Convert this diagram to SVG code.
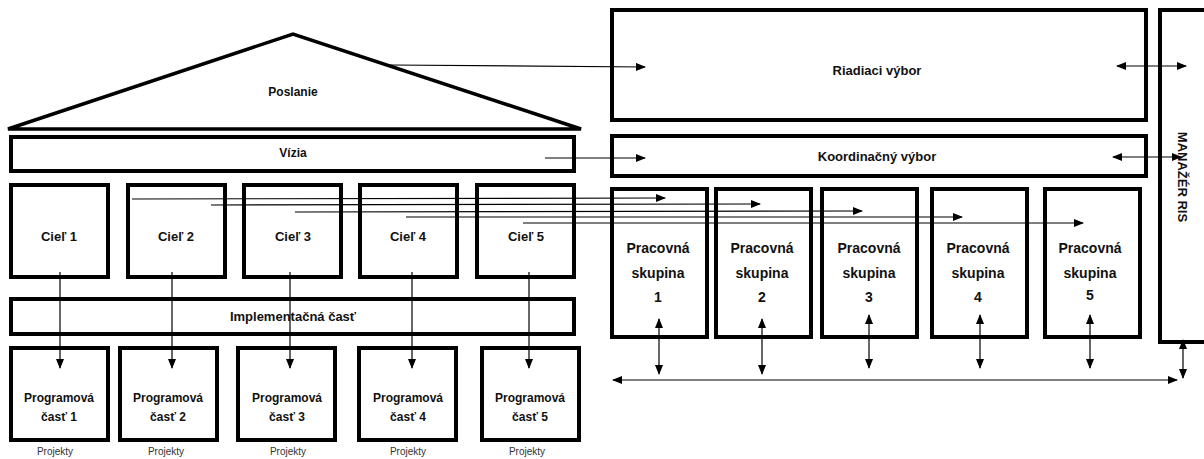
<svg xmlns="http://www.w3.org/2000/svg" width="1204" height="459" viewBox="0 0 1204 459">
<style>
.box{fill:#fff;stroke:#000;stroke-width:4}
.t{font-family:"Liberation Sans",Arial,sans-serif;font-weight:bold;fill:#111;text-anchor:middle}
.s12{font-size:12px}.s13{font-size:13px}.s14{font-size:14px}
.p{font-family:"Liberation Sans",Arial,sans-serif;font-size:10px;fill:#333;text-anchor:middle}
.c{stroke:#000;stroke-width:1.2;fill:none;marker-end:url(#ah)}
.d{stroke:#000;stroke-width:1.2;fill:none;marker-end:url(#ah);marker-start:url(#ah)}
</style>
<defs>
<marker id="ah" markerUnits="userSpaceOnUse" markerWidth="10" markerHeight="8" refX="9" refY="4" orient="auto-start-reverse">
<path d="M0,0 L10,4 L0,8 Z" fill="#000"/>
</marker>
</defs>
<g id="poslanie">
<path d="M8,129 L293,34 L581,129 Z" fill="#fff" stroke="#000" stroke-width="3.5" stroke-linejoin="miter"/>
<text class="t s12" x="293" y="96">Poslanie</text>
</g>
<g id="vizia"><rect class="box" x="11" y="137" width="563" height="34"/><text class="t s12" x="293" y="157">Vízia</text></g>
<g id="ciel1"><rect class="box" x="11" y="185" width="97" height="92"/><text class="t s13" x="59" y="241">Cieľ 1</text></g>
<g id="ciel2"><rect class="box" x="128" y="185" width="97" height="92"/><text class="t s13" x="176" y="241">Cieľ 2</text></g>
<g id="ciel3"><rect class="box" x="244" y="185" width="97" height="92"/><text class="t s13" x="293" y="241">Cieľ 3</text></g>
<g id="ciel4"><rect class="box" x="360" y="185" width="97" height="92"/><text class="t s13" x="408" y="241">Cieľ 4</text></g>
<g id="ciel5"><rect class="box" x="477" y="185" width="97" height="92"/><text class="t s13" x="526" y="241">Cieľ 5</text></g>
<g id="impl"><rect class="box" x="11" y="299" width="563" height="35"/><text class="t s13" x="293" y="321">Implementačná časť</text></g>
<g id="prog1"><rect class="box" x="11" y="348" width="97" height="92"/><text class="t s12" x="59" y="402">Programová</text><text class="t s12" x="59" y="421">časť 1</text><text class="p" x="55" y="455">Projekty</text></g>
<g id="prog2"><rect class="box" x="120" y="348" width="97" height="92"/><text class="t s12" x="168" y="402">Programová</text><text class="t s12" x="168" y="421">časť 2</text><text class="p" x="166" y="455">Projekty</text></g>
<g id="prog3"><rect class="box" x="238" y="348" width="97" height="92"/><text class="t s12" x="287" y="402">Programová</text><text class="t s12" x="287" y="421">časť 3</text><text class="p" x="288" y="455">Projekty</text></g>
<g id="prog4"><rect class="box" x="359" y="348" width="97" height="92"/><text class="t s12" x="408" y="402">Programová</text><text class="t s12" x="408" y="421">časť 4</text><text class="p" x="408" y="455">Projekty</text></g>
<g id="prog5"><rect class="box" x="482" y="348" width="97" height="92"/><text class="t s12" x="530" y="402">Programová</text><text class="t s12" x="530" y="421">časť 5</text><text class="p" x="527" y="455">Projekty</text></g>
<g id="riadiaci"><rect class="box" x="612" y="10" width="534" height="110"/><text class="t s13" x="877" y="75">Riadiaci výbor</text></g>
<g id="koordinacny"><rect class="box" x="612" y="136" width="534" height="40"/><text class="t s13" x="877" y="161">Koordinačný výbor</text></g>
<g id="manazer"><rect class="box" x="1160" y="10" width="60" height="332"/><text class="t s13" transform="translate(1178,177) rotate(90)">MANAŽÉR RIS</text></g>
<g id="ps1"><rect class="box" x="612" y="189" width="95" height="148"/><text class="t s14" x="658" y="253">Pracovná</text><text class="t s14" x="658" y="278">skupina</text><text class="t s14" x="658" y="302">1</text></g>
<g id="ps2"><rect class="box" x="716" y="189" width="95" height="148"/><text class="t s14" x="762" y="253">Pracovná</text><text class="t s14" x="762" y="278">skupina</text><text class="t s14" x="762" y="302">2</text></g>
<g id="ps3"><rect class="box" x="822" y="189" width="95" height="148"/><text class="t s14" x="869" y="253">Pracovná</text><text class="t s14" x="869" y="278">skupina</text><text class="t s14" x="869" y="302">3</text></g>
<g id="ps4"><rect class="box" x="932" y="189" width="95" height="148"/><text class="t s14" x="978" y="253">Pracovná</text><text class="t s14" x="978" y="278">skupina</text><text class="t s14" x="978" y="302">4</text></g>
<g id="ps5"><rect class="box" x="1045" y="189" width="95" height="148"/><text class="t s14" x="1090" y="253">Pracovná</text><text class="t s14" x="1090" y="278">skupina</text><text class="t s14" x="1090" y="300">5</text></g>
<g id="connectors">
<path class="c" d="M390,65 L645,67"/>
<path class="c" d="M545,158 L645,158"/>
<path class="d" d="M1117,66 L1186,66"/>
<path class="d" d="M1113,157 L1181,157"/>
<path class="c" d="M132,199 L665,198"/>
<path class="c" d="M211,205 L760,204"/>
<path class="c" d="M295,212 L862,211"/>
<path class="c" d="M406,217 L962,217"/>
<path class="c" d="M523,223 L1083,223"/>
<path class="c" d="M60,272 L60,368"/>
<path class="c" d="M172,272 L172,368"/>
<path class="c" d="M290,272 L290,368"/>
<path class="c" d="M412,272 L412,368"/>
<path class="c" d="M529,272 L529,368"/>
<path class="d" d="M659,319 L659,374"/>
<path class="d" d="M762,319 L762,374"/>
<path class="d" d="M869,315 L869,368"/>
<path class="d" d="M980,315 L980,368"/>
<path class="d" d="M1090,315 L1090,368"/>
<path class="d" d="M613,380 L1177,380"/>
<path class="d" d="M1183,340 L1183,378"/>
</g>
</svg>
